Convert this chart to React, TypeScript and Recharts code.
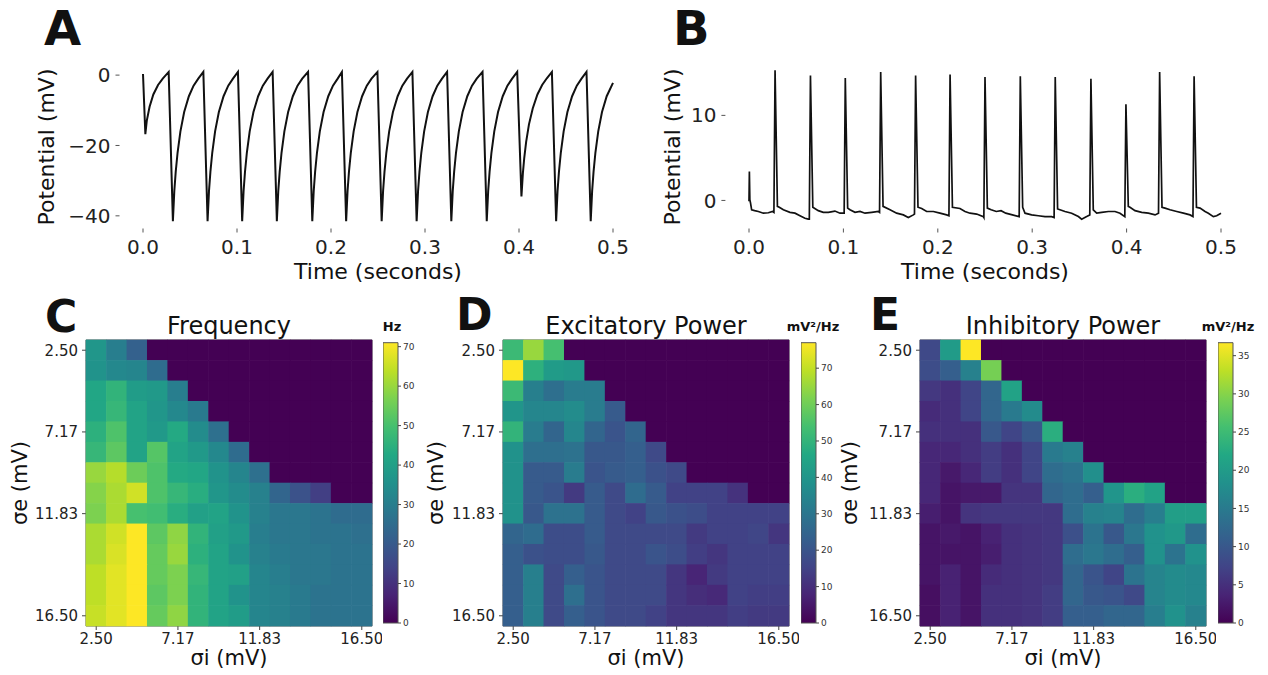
import React from 'react';
import { LineChart, Line, XAxis, YAxis, ScatterChart, Scatter, BarChart, Bar, ReferenceArea } from 'recharts';

const FONT = 'DejaVu Sans, Verdana, sans-serif';

// ---------- Panel A / B traces ----------
const TIME_TICKS = [0, 0.1, 0.2, 0.3, 0.4, 0.5];
const A_V_TICKS = [-40, -20, 0];
const B_V_TICKS = [0, 10];

// [time (s), potential (mV)]
const A_TRACE: number[][] = [
  [0, 0.3], [0.0025, -16.8], [0.004, -13], [0.007, -9], [0.011, -5.5], [0.016, -2.8], [0.021, -1], [0.0273, 0.9],
  [0.0318, -41.5], [0.0333, -33], [0.0348, -27.5], [0.0368, -22], [0.0398, -16], [0.0438, -10.5], [0.0488, -6], [0.0538, -3], [0.0588, -1], [0.0642, 0.9],
  [0.0687, -41.5], [0.0702, -33], [0.0717, -27.5], [0.0737, -22], [0.0767, -16], [0.0807, -10.5], [0.0857, -6], [0.0907, -3], [0.0957, -1], [0.101, 0.9],
  [0.1055, -41.5], [0.107, -33], [0.1085, -27.5], [0.1105, -22], [0.1135, -16], [0.1175, -10.5], [0.1225, -6], [0.1275, -3], [0.1325, -1], [0.1379, 0.9],
  [0.1424, -41.5], [0.1439, -33], [0.1454, -27.5], [0.1474, -22], [0.1504, -16], [0.1544, -10.5], [0.1594, -6], [0.1644, -3], [0.1694, -1], [0.1756, 0.9],
  [0.1801, -41.5], [0.1816, -33], [0.1831, -27.5], [0.1851, -22], [0.1881, -16], [0.1921, -10.5], [0.1971, -6], [0.2021, -3], [0.2071, -1], [0.2116, 0.9],
  [0.2161, -41.5], [0.2176, -33], [0.2191, -27.5], [0.2211, -22], [0.2241, -16], [0.2281, -10.5], [0.2331, -6], [0.2381, -3], [0.2431, -1], [0.2494, 0.9],
  [0.2539, -41.5], [0.2554, -33], [0.2569, -27.5], [0.2589, -22], [0.2619, -16], [0.2659, -10.5], [0.2709, -6], [0.2759, -3], [0.2809, -1], [0.2866, 0.9],
  [0.2911, -41.5], [0.2926, -33], [0.2941, -27.5], [0.2961, -22], [0.2991, -16], [0.3031, -10.5], [0.3081, -6], [0.3131, -3], [0.3181, -1], [0.3235, 0.9],
  [0.328, -41.5], [0.3295, -33], [0.331, -27.5], [0.333, -22], [0.336, -16], [0.34, -10.5], [0.345, -6], [0.35, -3], [0.355, -1], [0.3612, 0.9],
  [0.3657, -41.5], [0.3672, -33], [0.3687, -27.5], [0.3707, -22], [0.3737, -16], [0.3777, -10.5], [0.3827, -6], [0.3877, -3], [0.3927, -1], [0.3981, 0.9],
  [0.4026, -34.5], [0.4041, -28], [0.4056, -23.5], [0.4076, -19], [0.4106, -14], [0.4146, -9.5], [0.4196, -5.5], [0.4246, -2.8], [0.4296, -0.9], [0.435, 0.9],
  [0.4395, -41.5], [0.441, -33], [0.4425, -27.5], [0.4445, -22], [0.4475, -16], [0.4515, -10.5], [0.4565, -6], [0.4615, -3], [0.4665, -1], [0.4718, 0.9],
  [0.4763, -41.5], [0.4778, -33], [0.4793, -27.5], [0.4813, -22], [0.4843, -16], [0.4883, -10.5], [0.4933, -6], [0.5, -2.2],
];

const B_TRACE: number[][] = [
  [0, -0.1], [0.0004, 3.4], [0.0009, 0.1], [0.0016, -0.3], [0.0028, -1.1], [0.006, -1.2], [0.0099, -1.3], [0.0152, -1.5], [0.0205, -1.45], [0.025, -1.3],
  [0.0264, -1.4], [0.0276, 15.3], [0.0301, -0.7], [0.0321, -0.8], [0.0364, -1.1], [0.0434, -1.4], [0.0487, -1.5], [0.054, -1.8], [0.0593, -2.1], [0.0628, -2.2],
  [0.0639, -2.2], [0.0651, 14.7], [0.0676, -0.8], [0.0734, -1.2], [0.0787, -1.4], [0.084, -1.4], [0.091, -1.25], [0.0964, -1.5], [0.1006, -1.5],
  [0.1008, -1.5], [0.102, 14.4], [0.1045, -0.9], [0.107, -1.1], [0.1123, -1.4], [0.1176, -1.3], [0.1229, -1.5], [0.13, -1.4], [0.137, -1.3],
  [0.1383, -1.4], [0.1395, 15.1], [0.142, -0.7], [0.1494, -1.1], [0.1564, -1.5], [0.1635, -1.7], [0.1688, -2.0], [0.1741, -1.7], [0.1753, -1.6],
  [0.1753, -1.6], [0.1765, 14.7], [0.179, -0.8], [0.1829, -0.95], [0.1882, -1.3], [0.1953, -1.3], [0.2023, -1.5], [0.2094, -1.7], [0.2118, -1.8],
  [0.2118, -1.8], [0.213, 14.8], [0.2155, -0.8], [0.2235, -0.95], [0.2288, -1.3], [0.2341, -1.5], [0.2412, -1.6], [0.2483, -1.9],
  [0.2488, -2.0], [0.25, 14.5], [0.2525, -0.9], [0.2565, -1.1], [0.262, -1.3], [0.267, -1.2], [0.272, -1.5], [0.279, -1.7], [0.2862, -1.9],
  [0.2862, -1.9], [0.2874, 14.6], [0.2899, -0.8], [0.2924, -1.5], [0.2994, -1.7], [0.3065, -1.8], [0.3136, -1.9], [0.3206, -1.9], [0.3232, -2.0],
  [0.3232, -2.0], [0.3244, 14.5], [0.3269, -1.0], [0.3294, -1.1], [0.3347, -1.3], [0.3418, -1.5], [0.3489, -1.9], [0.3524, -2.2], [0.3577, -1.9], [0.361, -1.7],
  [0.361, -1.7], [0.3622, 14.3], [0.3647, -1.1], [0.3683, -1.5], [0.3736, -1.4], [0.3807, -1.3], [0.3877, -1.3], [0.393, -1.5], [0.3981, -1.9],
  [0.3981, -1.9], [0.3993, 11.3], [0.4018, -0.7], [0.4036, -0.8], [0.4089, -1.2], [0.416, -1.4], [0.423, -1.5], [0.4301, -1.7], [0.4338, -1.5],
  [0.4338, -1.5], [0.435, 15.1], [0.4375, -0.8], [0.4407, -0.9], [0.446, -1.1], [0.4531, -1.3], [0.4602, -1.5], [0.4672, -1.7], [0.4703, -1.9],
  [0.4703, -1.9], [0.4715, 14.6], [0.474, -0.8], [0.4778, -0.9], [0.4831, -1.3], [0.4866, -1.5], [0.4919, -1.9], [0.4954, -1.8], [0.5, -1.5],
];

// ---------- Panels C / D / E heatmaps (rows: σe from 2.50 down to 16.50, cols: σi 2.50 → 16.50) ----------
const SIGMA_TICK_INDEX = [0, 4, 8, 13];
const SIGMA_TICK_LABELS = ['2.50', '7.17', '11.83', '16.50'];

const FREQ_HZ: number[][] = [
  [37, 30, 22, 0, 0, 0, 0, 0, 0, 0, 0, 0, 0, 0],
  [36, 33, 32, 25, 0, 0, 0, 0, 0, 0, 0, 0, 0, 0],
  [42, 46, 39, 38, 30, 0, 0, 0, 0, 0, 0, 0, 0, 0],
  [42, 47, 41, 37, 33, 29, 0, 0, 0, 0, 0, 0, 0, 0],
  [45, 51, 41, 38, 43, 34, 26, 0, 0, 0, 0, 0, 0, 0],
  [47, 53, 41, 52, 41, 38, 33, 25, 0, 0, 0, 0, 0, 0],
  [60, 63, 55, 51, 43, 42, 36, 32, 26, 0, 0, 0, 0, 0],
  [58, 62, 66, 51, 47, 44, 37, 34, 31, 23, 18, 13, 0, 0],
  [57, 62, 50, 49, 44, 40, 41, 36, 31, 28, 28, 27, 25, 25],
  [62, 66, 71, 53, 59, 46, 40, 38, 30, 28, 28, 27, 27, 26],
  [62, 67, 71, 54, 60, 45, 41, 36, 31, 29, 28, 28, 27, 27],
  [64, 68, 71, 54, 57, 47, 41, 40, 32, 30, 28, 28, 27, 27],
  [64, 68, 71, 53, 57, 46, 41, 36, 32, 31, 29, 27, 27, 27],
  [65, 68, 71, 54, 59, 46, 41, 39, 32, 31, 29, 27, 27, 27],
];

const EXC_POWER: number[][] = [
  [52, 65, 54, 0, 0, 0, 0, 0, 0, 0, 0, 0, 0, 0],
  [77, 49, 42, 41, 0, 0, 0, 0, 0, 0, 0, 0, 0, 0],
  [52, 33, 28, 32, 32, 0, 0, 0, 0, 0, 0, 0, 0, 0],
  [40, 35, 35, 37, 32, 22, 0, 0, 0, 0, 0, 0, 0, 0],
  [50, 32, 25, 35, 25, 20, 25, 0, 0, 0, 0, 0, 0, 0],
  [39, 28, 28, 29, 21, 21, 23, 17, 0, 0, 0, 0, 0, 0],
  [39, 22, 22, 32, 20, 22, 23, 19, 17, 0, 0, 0, 0, 0],
  [39, 22, 20, 13, 22, 17, 27, 22, 15, 15, 15, 11, 0, 0],
  [39, 21, 29, 29, 22, 17, 15, 21, 19, 18, 15, 15, 15, 15],
  [25, 27, 18, 18, 22, 17, 17, 17, 17, 13, 15, 15, 16, 12],
  [23, 19, 18, 18, 21, 17, 17, 20, 18, 14, 12, 15, 15, 15],
  [23, 33, 17, 23, 20, 17, 17, 17, 12, 8, 13, 15, 15, 15],
  [23, 33, 17, 28, 20, 17, 17, 17, 12, 10, 9, 15, 14, 14],
  [23, 33, 17, 23, 20, 17, 17, 15, 12, 12, 12, 14, 13, 13],
];

const INH_POWER: number[][] = [
  [8, 20, 36.7, 0, 0, 0, 0, 0, 0, 0, 0, 0, 0, 0],
  [8.5, 11, 16, 29, 0, 0, 0, 0, 0, 0, 0, 0, 0, 0],
  [6, 5, 7.5, 12, 21, 0, 0, 0, 0, 0, 0, 0, 0, 0],
  [4.5, 5, 7.5, 12, 15, 17.5, 0, 0, 0, 0, 0, 0, 0, 0],
  [5, 5, 5, 10, 7.5, 10, 23, 0, 0, 0, 0, 0, 0, 0],
  [4, 4, 5, 6.5, 5, 7.5, 15, 16, 0, 0, 0, 0, 0, 0],
  [4, 2.5, 4, 6.5, 5, 7.5, 13, 14, 18, 0, 0, 0, 0, 0],
  [4, 2, 2.5, 2.5, 5.5, 5.5, 12, 13, 11, 19, 23, 21, 0, 0],
  [3, 2, 5.5, 6, 6, 6, 6, 13, 16, 16.5, 13, 15.5, 20.5, 20.5],
  [2, 2.5, 2, 3.5, 5, 5.5, 6, 9, 14, 10, 14.5, 18.5, 19.5, 13],
  [2, 2, 2, 3, 5, 5.5, 6, 13, 14.5, 13, 11, 18.5, 14, 18.5],
  [2, 3.5, 2, 4.5, 5, 5.5, 6, 12, 9.5, 7.5, 14, 16.5, 17.5, 17],
  [1.5, 3.5, 2, 5, 5, 5.5, 6.5, 12, 10, 9.5, 8, 16.5, 17.5, 17],
  [1.5, 3.5, 2, 5, 5, 5.5, 6.5, 11, 11, 12, 12, 15.5, 18.5, 16],
];

const FREQ_CB_TICKS = [0, 10, 20, 30, 40, 50, 60, 70];
const EXC_CB_TICKS = [0, 10, 20, 30, 40, 50, 60, 70];
const INH_CB_TICKS = [0, 5, 10, 15, 20, 25, 30, 35];

// ---------- viridis colour map ----------
const VIRIDIS = ['#440154', '#482475', '#414487', '#355f8d', '#2a788e', '#21918c', '#22a884', '#44bf70', '#7ad151', '#bddf26', '#fde725'];
const hexToRgb = (h: string) => [parseInt(h.slice(1, 3), 16), parseInt(h.slice(3, 5), 16), parseInt(h.slice(5, 7), 16)];
function viridis(t: number): string {
  const x = Math.max(0, Math.min(1, t)) * (VIRIDIS.length - 1);
  const i = Math.min(Math.floor(x), VIRIDIS.length - 2);
  const f = x - i;
  const a = hexToRgb(VIRIDIS[i]);
  const b = hexToRgb(VIRIDIS[i + 1]);
  const c = a.map((v, k) => Math.round(v + (b[k] - v) * f));
  return `rgb(${c[0]},${c[1]},${c[2]})`;
}

const minus = (v: number) => (v < 0 ? '\u2212' + Math.abs(v) : String(v));

// ---------- trace panel ----------
function TraceChart({ trace, left, width, plotLeft, domain, yTicks, strokeWidth }: any) {
  const rows = trace.map((p: number[]) => ({ t: p[0], v: p[1] }));
  const yAxisW = 80;
  const plotW = 0.55 * plotLeft.scale;
  return (
    <div style={{ position: 'absolute', left, top: 0 }}>
      <LineChart
        width={width}
        height={290}
        data={rows}
        margin={{ top: 63.5, bottom: 1.5, left: plotLeft.x - left - yAxisW, right: width - (plotLeft.x - left) - plotW }}
      >
        <XAxis
          dataKey="t"
          type="number"
          domain={[-0.025, 0.525]}
          ticks={TIME_TICKS}
          interval={0}
          allowDataOverflow
          tickFormatter={(v: number) => v.toFixed(1)}
          axisLine={false}
          tickLine={{ stroke: '#555' }}
          tickSize={4}
          tickMargin={7}
          height={60}
          tick={{ fontSize: 20, fill: '#222', fontFamily: FONT }}
        />
        <YAxis
          type="number"
          domain={domain}
          ticks={yTicks}
          interval={0}
          allowDataOverflow
          tickFormatter={minus}
          axisLine={false}
          tickLine={{ stroke: '#555' }}
          tickSize={4}
          tickMargin={5}
          width={yAxisW}
          tick={{ fontSize: 20, fill: '#222', fontFamily: FONT }}
        />
        <Line dataKey="v" type="linear" stroke="#111" strokeWidth={strokeWidth} dot={false} isAnimationActive={false} />
      </LineChart>
    </div>
  );
}

// ---------- heatmap panel ----------
const HM_SIZE = 286;
function Heatmap({ grid, plotLeft }: any) {
  const n = grid.length;
  const m = grid[0].length;
  const vmax = Math.max(...grid.flat());
  const cells = grid.flatMap((row: number[], r: number) => row.map((v: number, c: number) => ({ x: c, y: r, v })));
  const cw = HM_SIZE / m;
  const ch = HM_SIZE / n;
  const shape = (p: any) => (
    <rect
      x={p.cx - cw / 2 - 0.3}
      y={p.cy - ch / 2 - 0.3}
      width={cw + 0.6}
      height={ch + 0.6}
      fill={viridis(p.payload.v / vmax)}
      stroke="none"
    />
  );
  const lab = (i: number) => SIGMA_TICK_LABELS[SIGMA_TICK_INDEX.indexOf(i)] ?? '';
  const yAxisW = 80;
  return (
    <div style={{ position: 'absolute', left: plotLeft - yAxisW, top: 300 }}>
      <ScatterChart width={yAxisW + HM_SIZE + 10} height={375} margin={{ top: 40, right: 10, left: 0, bottom: 0 }}>
        <XAxis
          dataKey="x"
          type="number"
          domain={[-0.5, m - 0.5]}
          ticks={SIGMA_TICK_INDEX}
          interval={0}
          tickFormatter={lab}
          axisLine={false}
          tickLine={{ stroke: '#444' }}
          tickSize={4}
          tickMargin={3}
          height={49}
          tick={{ fontSize: 15, fill: '#222', fontFamily: FONT }}
        />
        <YAxis
          dataKey="y"
          type="number"
          domain={[-0.5, n - 0.5]}
          reversed
          ticks={SIGMA_TICK_INDEX}
          interval={0}
          tickFormatter={lab}
          axisLine={false}
          tickLine={{ stroke: '#444' }}
          tickSize={4}
          tickMargin={4}
          width={yAxisW}
          tick={{ fontSize: 15, fill: '#222', fontFamily: FONT }}
        />
        <Scatter data={cells} shape={shape} isAnimationActive={false} />
        <ReferenceArea x1={-0.5} x2={m - 0.5} y1={-0.5} y2={n - 0.5} fill="none" fillOpacity={0} stroke="#555" strokeWidth={1} ifOverflow="visible" />
      </ScatterChart>
    </div>
  );
}

// ---------- colorbar ----------
function Colorbar({ grid, ticks, left, id }: any) {
  const vmax = Math.max(...grid.flat());
  const data = [{ name: 'cb', v: vmax }];
  return (
    <div style={{ position: 'absolute', left, top: 300 }}>
      <BarChart width={55} height={375} data={data} margin={{ top: 42.7, right: 0, left: 0, bottom: 52 }} barCategoryGap={0}>
        <defs>
          <linearGradient id={id} x1="0" y1="1" x2="0" y2="0">
            {VIRIDIS.map((c, i) => (
              <stop key={i} offset={`${(i / (VIRIDIS.length - 1)) * 100}%`} stopColor={c} />
            ))}
          </linearGradient>
        </defs>
        <XAxis dataKey="name" hide />
        <YAxis
          orientation="right"
          type="number"
          domain={[0, vmax]}
          ticks={ticks}
          interval={0}
          axisLine={false}
          tickLine={{ stroke: '#444' }}
          tickSize={3}
          tickMargin={2}
          width={40}
          tick={{ fontSize: 9, fill: '#333', fontFamily: FONT }}
        />
        <Bar dataKey="v" fill={`url(#${id})`} stroke="#555" strokeWidth={1} isAnimationActive={false} />
      </BarChart>
    </div>
  );
}

export default function App() {
  const t = { fontFamily: FONT, fill: '#111' } as any;
  return (
    <div style={{ position: 'absolute', left: 0, top: 0, width: 1268, height: 675, background: '#fff', overflow: 'hidden', fontFamily: FONT }}>
      <TraceChart trace={A_TRACE} left={0} width={660} plotLeft={{ x: 119.5, scale: 940 }} domain={[-43.6, 3.3]} yTicks={A_V_TICKS} strokeWidth={2} />
      <TraceChart trace={B_TRACE} left={640} width={628} plotLeft={{ x: 725.4, scale: 944 }} domain={[-3.3, 16.1]} yTicks={B_V_TICKS} strokeWidth={1.7} />

      <Heatmap grid={FREQ_HZ} plotLeft={86} />
      <Heatmap grid={EXC_POWER} plotLeft={503} />
      <Heatmap grid={INH_POWER} plotLeft={920} />

      <Colorbar grid={FREQ_HZ} ticks={FREQ_CB_TICKS} left={383} id="cbC" />
      <Colorbar grid={EXC_POWER} ticks={EXC_CB_TICKS} left={801} id="cbD" />
      <Colorbar grid={INH_POWER} ticks={INH_CB_TICKS} left={1218} id="cbE" />

      <svg width={1268} height={675} style={{ position: 'absolute', left: 0, top: 0, pointerEvents: 'none' }}>
        <g {...t} fontWeight="bold">
          <text x={44} y={45} fontSize={48}>A</text>
          <text x={673} y={45} fontSize={48}>B</text>
          <text x={45} y={332} fontSize={44}>C</text>
          <text x={456} y={330} fontSize={44}>D</text>
          <text x={870} y={330} fontSize={44}>E</text>
          <text x={392} y={331} fontSize={13} textAnchor="middle">Hz</text>
          <text x={813} y={331} fontSize={13} textAnchor="middle">mV²/Hz</text>
          <text x={1228} y={331} fontSize={13} textAnchor="middle">mV²/Hz</text>
        </g>
        <g {...t}>
          <text x={378} y={279} fontSize={22} textAnchor="middle">Time (seconds)</text>
          <text x={985} y={279} fontSize={22} textAnchor="middle">Time (seconds)</text>
          <text x={54} y={147} fontSize={22} textAnchor="middle" transform="rotate(-90 54 147)">Potential (mV)</text>
          <text x={680} y={147} fontSize={22} textAnchor="middle" transform="rotate(-90 680 147)">Potential (mV)</text>

          <text x={229} y={334} fontSize={24} textAnchor="middle">Frequency</text>
          <text x={646} y={334} fontSize={24} textAnchor="middle">Excitatory Power</text>
          <text x={1063} y={334} fontSize={24} textAnchor="middle">Inhibitory Power</text>

          <text x={229} y={665} fontSize={21} textAnchor="middle">σi (mV)</text>
          <text x={646} y={665} fontSize={21} textAnchor="middle">σi (mV)</text>
          <text x={1063} y={665} fontSize={21} textAnchor="middle">σi (mV)</text>
          <text x={27} y={483} fontSize={21} textAnchor="middle" transform="rotate(-90 27 483)">σe (mV)</text>
          <text x={443} y={483} fontSize={21} textAnchor="middle" transform="rotate(-90 443 483)">σe (mV)</text>
          <text x={857} y={483} fontSize={21} textAnchor="middle" transform="rotate(-90 857 483)">σe (mV)</text>
        </g>
      </svg>
    </div>
  );
}
